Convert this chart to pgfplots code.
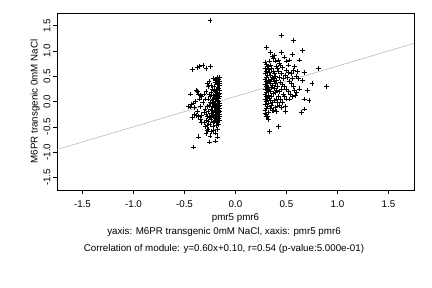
\documentclass[border=0pt]{standalone}
\usepackage{pgfplots}
\pgfplotsset{compat=1.18}
\usepackage{fontspec}
\setmainfont{Liberation Sans}
\newcommand{\f}{\fontsize{9.8}{11}\selectfont}
\begin{document}
\begin{tikzpicture}[x=1bp,y=1bp]
\path (0,0) rectangle (432,288);
\begin{axis}[
  at={(57bp,98bp)}, anchor=south west,
  scale only axis, width=357bp, height=177bp,
  xmin=-1.75, xmax=1.75, ymin=-1.75, ymax=1.75,
  xtick={-1.5,-1,-0.5,0,0.5,1,1.5},
  xticklabels={-1.5,-1.0,-0.5,0.0,0.5,1.0,1.5},
  ytick={-1.5,-1,-0.5,0,0.5,1,1.5},
  yticklabels={-1.5,-1.0,-0.5,0.0,0.5,1.0,1.5},
  xtick pos=lower, ytick pos=left,
  tick align=outside, major tick length=4bp,
  tick style={black, line width=0.4pt},
  axis line style={line width=0.4pt},
  ticklabel style={font=\f},
  yticklabel style={rotate=90, anchor=south, yshift=-1bp},
  xticklabel style={yshift=-3bp},
  xlabel={pmr5 pmr6}, xlabel style={font=\f, yshift=1bp},
  ylabel={M6PR transgenic 0mM NaCl}, ylabel style={font=\f, yshift=-3bp},
  clip=true,
]
\addplot[gray!55, line width=0.6pt] coordinates {(-1.75,-0.95) (1.75,1.15)};
\addplot[only marks, mark=+, mark size=2.4bp, mark options={line width=0.7pt, black}] coordinates {
(-0.25,1.60) (-0.42,0.63) (-0.37,0.68) (-0.35,0.69) (-0.32,0.71) (-0.29,0.66) (-0.245,0.69)
(-0.44,0.15) (-0.46,-0.10) (-0.44,-0.11) (-0.41,-0.03) (-0.42,-0.32) (-0.405,-0.26)
(-0.36,-0.70) (-0.41,-0.90) (-0.255,-0.80) (-0.20,-0.78) (-0.29,-0.63) (-0.28,-0.57)
(-0.216,-0.57) (-0.18,-0.70)
(-0.16,0.47) (-0.17,0.44) (-0.18,0.48) (-0.16,0.40) (-0.19,0.42) (-0.17,0.36) (-0.16,0.31)
(-0.18,0.33) (-0.20,0.38) (-0.22,0.45) (-0.21,0.30) (-0.17,0.26) (-0.16,0.22) (-0.19,0.24)
(-0.18,0.18) (-0.20,0.20) (-0.23,0.25) (-0.24,0.18) (-0.22,0.12) (-0.17,0.14) (-0.16,0.10)
(-0.18,0.07) (-0.19,0.04) (-0.21,0.08) (-0.20,0.01) (-0.17,0.00) (-0.16,-0.03) (-0.18,-0.06)
(-0.19,-0.09) (-0.22,-0.04) (-0.23,0.02) (-0.25,-0.02) (-0.20,-0.12) (-0.17,-0.10) (-0.16,-0.14)
(-0.18,-0.16) (-0.21,-0.18) (-0.19,-0.20) (-0.22,-0.22) (-0.17,-0.22) (-0.16,-0.26) (-0.18,-0.28)
(-0.20,-0.25) (-0.23,-0.28) (-0.21,-0.32) (-0.19,-0.34) (-0.17,-0.33) (-0.16,-0.37) (-0.18,-0.40)
(-0.20,-0.38) (-0.22,-0.41) (-0.24,-0.35) (-0.26,-0.30) (-0.25,-0.45) (-0.27,-0.40) (-0.29,-0.38)
(-0.31,-0.41) (-0.28,-0.48) (-0.30,-0.50) (-0.22,-0.50) (-0.19,-0.48) (-0.17,-0.45) (-0.24,-0.60)
(-0.20,-0.62) (-0.18,-0.55) (-0.25,-0.68) (-0.27,-0.55) (-0.33,-0.42) (-0.34,-0.36) (-0.36,-0.30)
(-0.38,-0.28) (-0.37,-0.20) (-0.40,-0.12) (-0.43,-0.06) (-0.39,0.00) (-0.35,0.05) (-0.33,0.10)
(-0.36,0.15) (-0.37,0.20) (-0.38,0.22) (-0.34,0.12) (-0.31,0.15) (-0.29,0.20) (-0.27,0.30)
(-0.26,0.40) (-0.28,0.35) (-0.24,0.32) (-0.30,0.05) (-0.32,-0.02) (-0.34,-0.10) (-0.30,-0.15)
(-0.28,-0.10) (-0.27,-0.20) (-0.26,-0.08) (-0.29,-0.25) (-0.31,-0.22) (-0.33,-0.28) (-0.25,0.10)
(-0.27,0.05) (-0.26,0.15) (-0.28,-0.30) (-0.24,-0.15) (-0.23,-0.10) (-0.22,-0.30) (-0.21,-0.06)
(-0.20,-0.30) (-0.19,-0.26) (-0.18,-0.35) (-0.17,-0.30) (-0.16,-0.20) (-0.20,0.14) (-0.21,0.22)
(-0.19,0.12) (-0.18,0.25) (-0.17,0.06) (-0.16,0.17) (-0.22,0.05) (-0.23,-0.18) (-0.24,-0.24)
(-0.25,-0.32) (-0.21,-0.40) (-0.16,-0.30) (-0.17,-0.38) (-0.19,-0.42) (-0.16,-0.08) (-0.18,0.02)
(-0.20,-0.03) (-0.17,-0.18) (-0.18,-0.12) (-0.19,-0.15) (-0.16,0.36) (-0.18,0.42) (-0.20,0.44)
(0.454,1.30) (0.569,1.21) (0.307,1.07) (0.66,1.01) (0.556,0.93) (0.454,0.97) (0.346,0.97)
(0.379,0.91) (0.627,0.82) (0.814,0.65) (0.895,0.30) (0.75,0.36) (0.66,0.41) (0.673,0.58)
(0.706,0.22) (0.673,0.05) (0.72,0.02) (0.65,-0.22) (0.676,-0.15) (0.487,-0.20) (0.41,-0.09)
(0.37,-0.18) (0.42,-0.49) (0.333,-0.59) (0.324,-0.36) (0.30,-0.30) (0.29,-0.24)
(0.29,0.78) (0.30,0.74) (0.31,0.70) (0.29,0.65) (0.30,0.60) (0.32,0.63) (0.29,0.55) (0.31,0.52)
(0.30,0.48) (0.29,0.44) (0.32,0.42) (0.30,0.40) (0.31,0.36) (0.29,0.33) (0.30,0.30) (0.32,0.28)
(0.29,0.25) (0.31,0.22) (0.30,0.18) (0.29,0.14) (0.32,0.12) (0.30,0.10) (0.31,0.06) (0.29,0.04)
(0.30,0.00) (0.32,-0.03) (0.29,-0.06) (0.31,-0.10) (0.30,-0.14) (0.29,-0.18) (0.32,-0.22)
(0.30,-0.26) (0.31,-0.30) (0.33,0.80) (0.34,0.72) (0.35,0.66) (0.33,0.58) (0.34,0.52) (0.36,0.48)
(0.35,0.44) (0.33,0.40) (0.34,0.36) (0.36,0.32) (0.35,0.28) (0.33,0.24) (0.34,0.20) (0.37,0.16)
(0.35,0.10) (0.33,0.06) (0.34,0.02) (0.36,-0.02) (0.35,-0.08) (0.37,0.60) (0.38,0.55) (0.39,0.50)
(0.37,0.45) (0.38,0.40) (0.40,0.42) (0.39,0.35) (0.41,0.30) (0.38,0.26) (0.40,0.22) (0.39,0.18)
(0.42,0.60) (0.41,0.65) (0.40,0.70) (0.43,0.75) (0.39,0.80) (0.37,0.85) (0.36,0.90) (0.42,0.82)
(0.44,0.72) (0.46,0.68) (0.45,0.55) (0.43,0.48) (0.47,0.45) (0.44,0.38) (0.46,0.34) (0.48,0.30)
(0.45,0.25) (0.43,0.20) (0.47,0.15) (0.42,0.10) (0.44,0.04) (0.40,0.05) (0.38,0.02) (0.41,-0.02)
(0.43,-0.08) (0.39,-0.12) (0.36,-0.18) (0.34,-0.14) (0.40,-0.20) (0.45,-0.12) (0.50,0.62)
(0.52,0.58) (0.49,0.52) (0.51,0.48) (0.53,0.40) (0.55,0.35) (0.50,0.25) (0.52,0.20) (0.54,0.15)
(0.56,0.10) (0.53,0.05) (0.58,0.22) (0.57,0.30) (0.60,0.18) (0.59,0.12) (0.55,0.55) (0.57,0.62)
(0.60,0.50) (0.62,0.45) (0.58,0.70) (0.53,0.82) (0.50,0.80) (0.48,0.88) (0.52,0.72) (0.61,0.60)
(0.56,0.45) (0.63,0.25) (0.48,0.10) (0.50,0.05) (0.46,-0.02) (0.49,-0.10)
};
\end{axis}
\node[font=\f] at (224,56) {yaxis: M6PR transgenic 0mM NaCl, xaxis: pmr5 pmr6};
\node[font=\f] at (224,39) {Correlation of module: y=0.60x+0.10, r=0.54 (p-value:5.000e-01)};
\end{tikzpicture}
\end{document}
